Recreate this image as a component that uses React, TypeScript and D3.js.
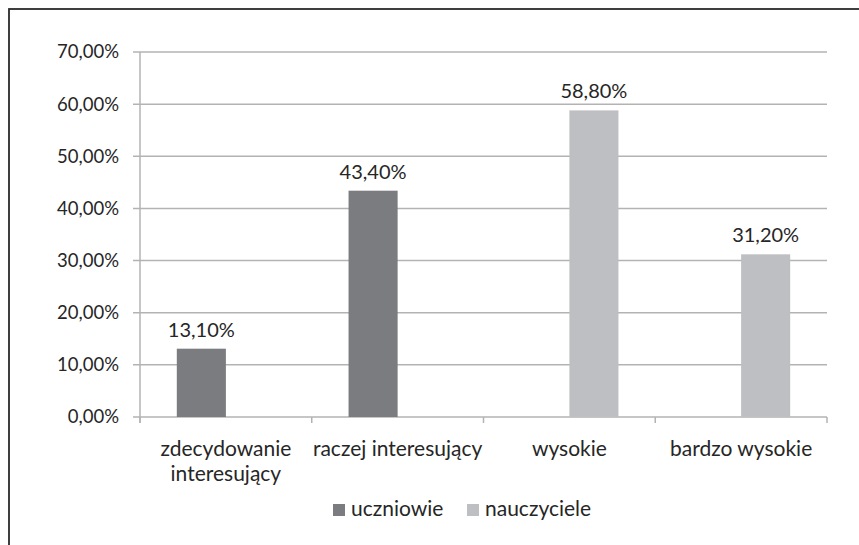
import React, { useEffect, useRef } from "react";
import * as d3 from "d3";

const categories = ["zdecydowanie interesujący", "raczej interesujący", "wysokie", "bardzo wysokie"];
const seriesNames = ["uczniowie", "nauczyciele"];
const uczniowie: (number | null)[] = [0.131, 0.434, null, null];
const nauczyciele: (number | null)[] = [null, null, 0.588, 0.312];
const yTicks = [0, 0.1, 0.2, 0.3, 0.4, 0.5, 0.6, 0.7];
const colors = ["#7b7c80", "#bebfc3"];

const W = 859;
const H = 545;
const FONT = "Lato, 'Open Sans', sans-serif";
const TEXT = "#262626";

export default function App() {
  const ref = useRef<SVGSVGElement>(null);

  useEffect(() => {
    const svg = d3.select(ref.current);
    svg.selectAll("*").remove();

    const left = 140, right = 827, top = 52, bottom = 417;
    const y = d3.scaleLinear().domain([0, 0.7]).range([bottom, top]);
    const x0 = d3.scaleBand<string>().domain(categories).range([left, right]).padding(0);
    const x1 = d3.scaleBand<string>().domain(seriesNames).range([0, x0.bandwidth()]).paddingInner(0).paddingOuter(0.75);
    const fmt = (v: number) => (v * 100).toFixed(2).replace(".", ",") + "%";

    // frame
    svg.append("rect").attr("x", 9).attr("y", 9).attr("width", 900).attr("height", 600)
      .attr("fill", "#fff").attr("stroke", "#2b2b2b").attr("stroke-width", 1.8);

    // gridlines
    svg.append("g").selectAll("line").data(yTicks).join("line")
      .attr("x1", left - 7).attr("x2", right)
      .attr("y1", d => y(d)).attr("y2", d => y(d))
      .attr("stroke", "#b3b3b3").attr("stroke-width", 1.5);

    // y axis line
    svg.append("line").attr("x1", left).attr("x2", left).attr("y1", top).attr("y2", bottom + 6)
      .attr("stroke", "#b3b3b3").attr("stroke-width", 1.5);

    // category ticks
    const tickXs = [...categories.map(c => x0(c)!), right];
    svg.append("g").selectAll("line").data(tickXs).join("line")
      .attr("x1", d => d).attr("x2", d => d).attr("y1", bottom).attr("y2", bottom + 6)
      .attr("stroke", "#b3b3b3").attr("stroke-width", 1.5);

    // y labels
    svg.append("g").selectAll("text").data(yTicks).join("text")
      .attr("x", 119).attr("y", d => y(d)).attr("dy", "0.35em")
      .attr("text-anchor", "end").attr("font-family", FONT).attr("font-size", 18.5)
      .attr("fill", TEXT).text(d => fmt(d));

    // bars
    const seriesData = [uczniowie, nauczyciele];
    seriesData.forEach((vals, si) => {
      const items = categories.map((c, i) => ({ c, v: vals[i] })).filter(d => d.v != null) as { c: string; v: number }[];
      const g = svg.append("g");
      g.selectAll("rect").data(items).join("rect")
        .attr("x", d => x0(d.c)! + x1(seriesNames[si])!)
        .attr("width", x1.bandwidth())
        .attr("y", d => y(d.v)).attr("height", d => bottom - y(d.v))
        .attr("fill", colors[si]);
      g.selectAll("text").data(items).join("text")
        .attr("x", d => x0(d.c)! + x1(seriesNames[si])! + x1.bandwidth() / 2)
        .attr("y", d => y(d.v) - 12)
        .attr("text-anchor", "middle").attr("font-family", FONT).attr("font-size", 20)
        .attr("fill", TEXT).text(d => fmt(d.v));
    });

    // category labels with wrapping
    const catG = svg.append("g");
    categories.forEach(c => {
      const cx = x0(c)! + x0.bandwidth() / 2;
      const t = catG.append("text")
        .attr("x", cx).attr("y", 456)
        .attr("text-anchor", "middle").attr("font-family", FONT).attr("font-size", 21)
        .attr("fill", TEXT);
      const words = c.split(" ");
      let line: string[] = [];
      let tspan = t.append("tspan").attr("x", cx).attr("dy", 0);
      words.forEach(w => {
        line.push(w);
        tspan.text(line.join(" "));
        if ((tspan.node() as SVGTSpanElement).getComputedTextLength() > x0.bandwidth() && line.length > 1) {
          line.pop();
          tspan.text(line.join(" "));
          line = [w];
          tspan = t.append("tspan").attr("x", cx).attr("dy", 25).text(w);
        }
      });
    });

    // legend
    const legend = svg.append("g");
    const lx = [333, 467];
    seriesNames.forEach((s, i) => {
      legend.append("rect").attr("x", lx[i]).attr("y", 504).attr("width", 12).attr("height", 12).attr("fill", colors[i]);
      legend.append("text").attr("x", lx[i] + 18).attr("y", 516)
        .attr("font-family", FONT).attr("font-size", 21).attr("fill", TEXT).text(s);
    });
  }, []);

  return (
    <svg ref={ref} width={W} height={H} style={{ position: "absolute", left: 0, top: 0, background: "#fff" }} />
  );
}
